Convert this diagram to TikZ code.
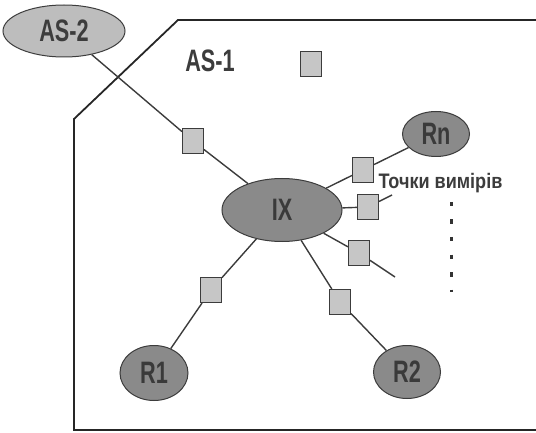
\documentclass[tikz,border=0pt]{standalone}
\usepackage{fontspec}
\usetikzlibrary{shapes.geometric, positioning}
\newfontfamily\condfont[FakeStretch=0.7]{Liberation Sans}
\newfontfamily\labelfont[FakeStretch=0.86]{Liberation Sans}
\definecolor{nodedark}{HTML}{8a8a8a}
\definecolor{nodelight}{HTML}{bdbdbd}
\definecolor{probefill}{HTML}{c6c6c6}
\definecolor{edgegrey}{HTML}{3c3c3c}
\definecolor{textdark}{HTML}{3a3a3a}
\tikzset{
    router/.style={
        ellipse, draw=edgegrey, fill=nodedark, line width=1pt,
        inner sep=0pt, text=textdark,
        font=\condfont\bfseries\fontsize{31}{31}\selectfont
    },
    extas/.style={
        router, fill=nodelight, text=edgegrey
    },
    probe/.style={
        rectangle, draw=edgegrey, fill=probefill, line width=1pt,
        minimum width=21pt, minimum height=25pt, inner sep=0pt
    },
    link/.style={draw=edgegrey, line width=1.4pt},
    border/.style={draw=black!85, line width=1.8pt},
    dots/.style={draw=black!80, line width=3pt, dash pattern=on 4.5pt off 13pt}
}
\begin{document}
\begin{tikzpicture}[x=1pt, y=-1pt]
    \useasboundingbox (0,0) rectangle (536,433);

    % --- AS-1 boundary ---
    \coordinate (b_tr) at (536,20);
    \coordinate (b_tl) at (178,20);
    \coordinate (b_ml) at (74,119);
    \coordinate (b_bl) at (74,430);
    \coordinate (b_br) at (536,430);
    \draw[border] (b_tr) -- (b_tl) -- (b_ml) -- (b_bl) -- (b_br);
    \node[font=\condfont\bfseries\fontsize{31}{31}\selectfont, text=edgegrey] (as1) at (210,61) {AS-1};

    % --- Routers ---
    \node[extas, minimum width=122pt, minimum height=52pt] (as2) at (64,31) {AS-2};
    \node[router, minimum width=120pt, minimum height=63pt] (ix) at (282,210) {IX};
    \node[router, minimum width=67pt, minimum height=45pt] (rn) at (436,134) {Rn};
    \node[router, minimum width=68pt, minimum height=55pt] (r1) at (154,373) {R1};
    \node[router, minimum width=67pt, minimum height=53pt] (r2) at (407,372) {R2};

    % --- Measurement points ---
    \node[probe] (mp_0) at (311,64) {};
    \node[probe] (mp_as2) at (193,141) {};
    \node[probe] (mp_rn) at (363,170) {};
    \node[probe] (mp_2) at (368,207) {};
    \node[probe] (mp_3) at (359,253) {};
    \node[probe] (mp_r2) at (340,302) {};
    \node[probe] (mp_r1) at (211,290) {};

    \node[font=\labelfont\bfseries\fontsize{21}{21}\selectfont, text=edgegrey, anchor=west] (lbl) at (375,183) {Точки вимірів};

    \coordinate (end_2) at (392,195);
    \coordinate (end_3) at (395,277);
    \coordinate (d_top) at (451,202);
    \coordinate (d_bot) at (451,292);

    % --- Links ---
    \draw[link] (as2) -- (mp_as2) -- (ix);
    \draw[link] (ix) -- (mp_rn) -- (rn);
    \draw[link] (ix) -- (mp_2) -- (end_2);
    \draw[link] (ix) -- (mp_3) -- (end_3);
    \draw[link] (ix) -- (mp_r2) -- (r2);
    \draw[link] (ix) -- (mp_r1) -- (r1);

    \draw[dots] (d_top) -- (d_bot);

\end{tikzpicture}
\end{document}
